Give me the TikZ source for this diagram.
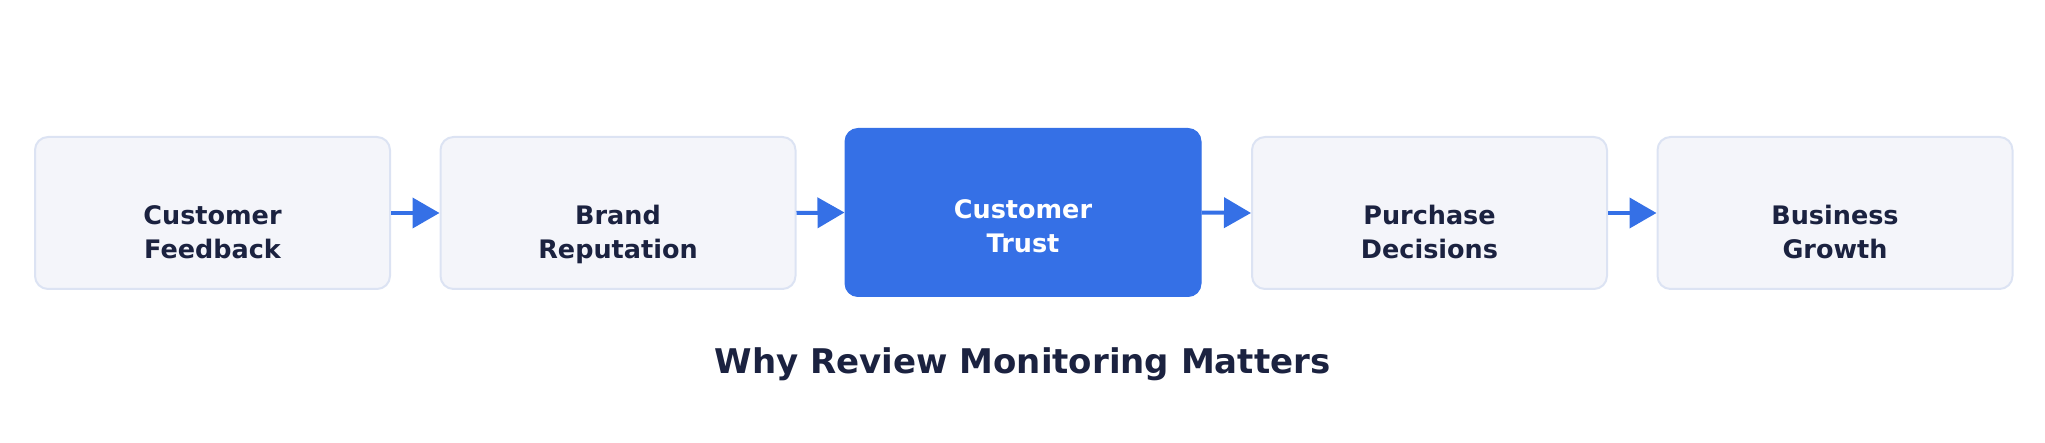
\documentclass[tikz,border=0pt]{standalone}
\usepackage{fontspec}
\setmainfont{DejaVu Sans}
\usetikzlibrary{arrows.meta}
\definecolor{accent}{RGB}{53,112,230}
\definecolor{lightfill}{RGB}{244,245,250}
\definecolor{lightborder}{RGB}{220,227,243}
\definecolor{navy}{RGB}{27,34,64}
\tikzset{
  lightbox/.style={draw=lightborder, fill=lightfill, line width=2pt, rounded corners=13pt,
    minimum width=355pt, minimum height=152pt, inner sep=0pt},
  bluebox/.style={draw=accent, fill=accent, line width=1pt, rounded corners=13pt,
    minimum width=356pt, minimum height=168pt, inner sep=0pt},
  lbl/.style={align=center, font=\bfseries\fontsize{25.5}{34}\selectfont, text=navy, inner sep=0pt},
  flow/.style={draw=accent, line width=4pt, -{Triangle[length=27pt,width=30pt]}}
}
\begin{document}
\begin{tikzpicture}[x=1pt,y=-1pt]
\useasboundingbox (0,0) rectangle (2045,443);
\node[lightbox] (b1) at (212.5,213) {};
\node[lightbox] (b2) at (618,213) {};
\node[bluebox]  (b3) at (1023,212.5) {};
\node[lightbox] (b4) at (1429.5,213) {};
\node[lightbox] (b5) at (1835,213) {};
\node[lbl] (t1) at (212.5,234.5) {\strut Customer\\\strut Feedback};
\node[lbl] (t2) at (618,234.5) {\strut Brand\\\strut Reputation};
\node[lbl, text=white] (t3) at (1023,228.5) {\strut Customer\\\strut Trust};
\node[lbl] (t4) at (1429.5,234.5) {\strut Purchase\\\strut Decisions};
\node[lbl] (t5) at (1835,234.5) {\strut Business\\\strut Growth};
\draw[flow] (b1.east) -- (b2.west);
\draw[flow] (b2.east) -- (b3.west);
\draw[flow] (b3.east) -- (b4.west);
\draw[flow] (b4.east) -- (b5.west);
\node[font=\bfseries\fontsize{34}{40}\selectfont, text=navy, inner sep=0pt] (title) at (1022.5,364.5) {Why Review Monitoring Matters};
\end{tikzpicture}
\end{document}
